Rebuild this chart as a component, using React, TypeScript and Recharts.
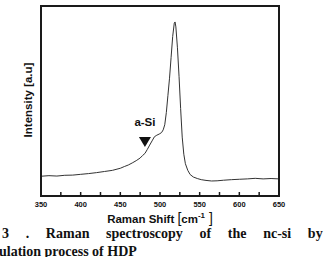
import React from 'react';
import { LineChart, Line, XAxis, YAxis, usePlotArea } from 'recharts';

const ramanShift = [
  350, 360, 370, 380, 390, 400, 410, 420, 430, 440, 450, 455, 460, 465, 470, 475, 478, 481, 484, 487,
  490, 493, 496, 499, 502, 504, 506, 508, 510, 512, 514, 516, 518, 519, 520, 522, 524, 526, 528, 530,
  532, 535, 538, 542, 547, 552, 558, 565, 572, 580, 590, 600, 610, 620, 630, 640, 650,
];
const intensity = [
  10.4, 10.7, 10.5, 10.9, 11.0, 11.4, 11.8, 12.3, 12.9, 13.5, 14.6, 15.5, 16.3, 17.4, 18.6, 20.0, 21.3, 22.4, 24.5, 26.8,
  29.0, 31.2, 32.0, 32.6, 33.4, 34.8, 37.5, 44, 53, 62, 73, 84, 91, 91.6, 89, 78, 63, 46, 31, 22,
  17, 13.5, 11.3, 10.0, 9.2, 8.6, 8.2, 7.9, 8.0, 8.3, 8.6, 8.8, 9.0, 9.3, 9.0, 9.2, 9.0,
];
const xTicks = [350, 375, 400, 425, 450, 475, 500, 525, 550, 575, 600, 625, 650];

// a-Si marker position
const aSiShift = [481];
const aSiLevel = [28.4];

const data = ramanShift.map((x, i) => ({ x, y: intensity[i] }));
const markerData = aSiShift.map((x, i) => ({ x, m: aSiLevel[i] }));

const font = 'Arial, "Liberation Sans", sans-serif';

function Frame() {
  const p = usePlotArea();
  if (!p) return null;
  const { x, y, width: w, height: h } = p;
  return <path d={`M${x},${y}H${x + w}V${y + h}H${x}Z`} fill="none" stroke="#1a1a1a" strokeWidth={2} />;
}

function InsideTick({ x, y, payload }: any) {
  const v = payload.value;
  return (
    <g>
      {v !== 350 && v !== 650 && <path d={`M${x},${y}V${y - 4}`} stroke="#1a1a1a" strokeWidth={1.5} fill="none" />}
      {v % 50 === 0 && (
        <text x={x} y={y + 11} textAnchor="middle" fontSize={7.5} fontWeight="bold" fontFamily={font} fill="#111">
          {v}
        </text>
      )}
    </g>
  );
}

function Marker({ cx, cy }: any) {
  if (cx == null || cy == null) return null;
  return (
    <g key="asi">
      <polygon points={`${cx - 6},${cy - 5} ${cx + 6},${cy - 5} ${cx},${cy + 5}`} fill="#111" />
      <text x={cx} y={cy - 16} textAnchor="middle" fontSize={11.5} fontWeight="bold" fontFamily={font} fill="#111">
        a-Si
      </text>
    </g>
  );
}

export default function App() {
  return (
    <div style={{ position: 'absolute', left: 0, top: 0, width: 325, height: 257, background: '#fff' }}>
      <LineChart width={325} height={257} data={data} margin={{ top: 6, right: 46, bottom: 31, left: 41 }}>
        <XAxis
          type="number"
          dataKey="x"
          domain={[350, 650]}
          ticks={xTicks}
          interval={0}
          height={30}
          tickSize={0}
          tickMargin={0}
          axisLine={false}
          tickLine={false}
          tick={<InsideTick />}
        />
        <YAxis type="number" domain={[0, 100]} hide />
        <Line type="linear" dataKey="y" stroke="#333" strokeWidth={1} dot={false} isAnimationActive={false} />
        <Line data={markerData} type="linear" dataKey="m" stroke="none" dot={<Marker />} isAnimationActive={false} />
        <Frame />
      </LineChart>
      <div
        style={{
          position: 'absolute', left: 40, top: 5, width: 240, height: 192, boxSizing: 'border-box',
          border: '2px solid #1a1a1a', pointerEvents: 'none',
        }}
      />
      <div style={{ position: 'absolute', left: 28, top: 100, width: 0, height: 0 }}>
        <div
          style={{
            position: 'absolute', left: 0, top: 0, transform: 'translate(-50%, -50%) rotate(-90deg)', whiteSpace: 'nowrap',
            fontFamily: font, fontWeight: 'bold', fontSize: 11.5, color: '#111',
          }}
        >
          Intensity [a.u]
        </div>
      </div>
      <div
        style={{
          position: 'absolute', left: 0, width: 320, top: 211, textAlign: 'center', whiteSpace: 'nowrap', lineHeight: '14px',
          fontFamily: font, fontWeight: 'bold', fontSize: 11.5, color: '#111',
        }}
      >
        Raman Shift <span style={{ fontWeight: 'normal', fontSize: 14 }}>[</span>cm<sup style={{ fontSize: 8, lineHeight: 0 }}>-1</sup>
        <span style={{ fontWeight: 'normal', fontSize: 14 }}> ]</span>
      </div>
      <div style={{ position: 'absolute', left: 0, top: 224, width: 325, height: 33, overflow: 'hidden' }}>
        <div
          style={{
            position: 'absolute', left: 2, width: 356, top: 2, textAlign: 'justify', textAlignLast: 'justify',
            fontFamily: '"Liberation Serif", "Times New Roman", serif', fontWeight: 'bold', fontSize: 14, color: '#111', lineHeight: '15px',
          }}
        >
          3 . Raman spectroscopy of the nc-si by the
        </div>
        <div
          style={{
            position: 'absolute', left: -1, top: 20, whiteSpace: 'nowrap',
            fontFamily: '"Liberation Serif", "Times New Roman", serif', fontWeight: 'bold', fontSize: 14, color: '#111', lineHeight: '15px',
          }}
        >
          ulation process of HDP
        </div>
      </div>
    </div>
  );
}
